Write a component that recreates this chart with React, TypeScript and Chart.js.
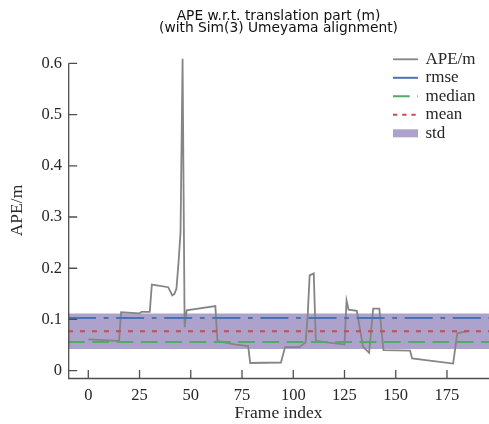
import React, { useEffect, useRef } from "react";
import { Chart, registerables } from "chart.js";

Chart.register(...registerables);

// ---- data ----
const FRAMES = [
  0, 15, 16, 25, 26, 30, 31, 39, 40, 41, 42, 43, 44, 45, 46, 47, 48, 62, 63, 72, 78, 79,
  94, 96, 103, 104, 106, 107, 108, 110, 111, 125, 126, 127, 131, 134, 137, 139, 142, 144,
  157, 158, 178, 180, 186,
];
const APE = [
  0.061, 0.058, 0.114, 0.112, 0.115, 0.115, 0.168, 0.163, 0.155, 0.147, 0.15, 0.16, 0.21,
  0.27, 0.609, 0.085, 0.118, 0.126, 0.058, 0.051, 0.048, 0.015, 0.016, 0.046, 0.046, 0.049,
  0.055, 0.105, 0.186, 0.19, 0.058, 0.051, 0.137, 0.119, 0.117, 0.047, 0.035, 0.121, 0.121,
  0.04, 0.039, 0.024, 0.014, 0.073, 0.078,
];
const RMSE = 0.103;
const MEDIAN = 0.056;
const MEAN = 0.077;
const STD = 0.0696;

const X_RANGE = [-9.9, 195.5];
const Y_RANGE = [-0.0162, 0.6416];
const X_TICK_STEP = 25;
const Y_TICK_STEP = 0.1;
const Y_TICK_TOP = 0.6;

const TITLE = ["APE w.r.t. translation part (m)", "(with Sim(3) Umeyama alignment)"];
const X_LABEL = "Frame index";
const Y_LABEL = "APE/m";
const SERIES_LABELS = ["APE/m", "rmse", "median", "mean", "std"];

// ---- styles ----
const SERIF = "'Liberation Serif', 'Times New Roman', serif";
const TEXT = "#262626";
const SPINE = "#4f4f4f";
const GRAY = "#858585";
const BLUE = "#4c72b0";
const GREEN = "#55a868";
const RED = "#c44e52";
const BAND = "rgba(129,114,178,0.66)";

const DASH_RMSE = [28, 7.7, 4.7, 7.7];
const DASH_MEDIAN = [16.7, 7.6];
const DASH_MEAN = [5, 7];

const hline = (v: number) => [
  { x: X_RANGE[0], y: v },
  { x: X_RANGE[1], y: v },
];

const decorPlugin = {
  id: "decor",
  afterDatasetsDraw(chart: any) {
    const { ctx, chartArea, scales } = chart;
    const xs = scales.x;
    const ys = scales.y;
    ctx.save();
    // spines
    ctx.strokeStyle = SPINE;
    ctx.lineWidth = 1.3;
    ctx.setLineDash([]);
    const lx = chartArea.left + 0.7;
    const by = chartArea.bottom - 0.5;
    ctx.beginPath();
    ctx.moveTo(lx, ys.getPixelForValue(Y_TICK_TOP));
    ctx.lineTo(lx, by);
    ctx.lineTo(chartArea.right, by);
    ctx.stroke();
    // inward tick marks
    ctx.beginPath();
    ys.ticks.forEach((t: any) => {
      const p = ys.getPixelForValue(t.value);
      ctx.moveTo(lx, p);
      ctx.lineTo(lx + 8.5, p);
    });
    xs.ticks.forEach((t: any) => {
      const p = xs.getPixelForValue(t.value);
      ctx.moveTo(p, by);
      ctx.lineTo(p, by - 8.5);
    });
    ctx.stroke();

    // legend
    const x0 = chartArea.right - 96;
    const x1 = x0 + 25;
    const tx = x1 + 7.5;
    const y0 = chartArea.top + 17.3;
    const step = 18.5;
    const items = [
      { color: GRAY, dash: [] as number[], w: 1.8 },
      { color: BLUE, dash: DASH_RMSE, w: 2 },
      { color: GREEN, dash: DASH_MEDIAN, w: 2 },
      { color: RED, dash: [4.3, 4.9], w: 2 },
      { color: BAND, dash: [], w: 0, patch: true },
    ];
    ctx.font = `17px ${SERIF}`;
    ctx.textBaseline = "middle";
    ctx.textAlign = "left";
    items.forEach((it: any, i) => {
      const y = y0 + i * step;
      if (it.patch) {
        ctx.fillStyle = it.color;
        ctx.fillRect(x0, y - 4, x1 - x0, 8);
      } else {
        ctx.strokeStyle = it.color;
        ctx.lineWidth = it.w;
        ctx.setLineDash(it.dash);
        ctx.beginPath();
        ctx.moveTo(x0, y);
        ctx.lineTo(x1, y);
        ctx.stroke();
      }
      ctx.setLineDash([]);
      ctx.fillStyle = TEXT;
      ctx.fillText(SERIES_LABELS[i], tx, y);
    });
    ctx.restore();
  },
};

export default function App() {
  const ref = useRef<HTMLCanvasElement | null>(null);

  useEffect(() => {
    if (!ref.current) return;
    const chart = new Chart(ref.current, {
      type: "line",
      data: {
        datasets: [
          {
            label: SERIES_LABELS[0],
            data: FRAMES.map((f, i) => ({ x: f, y: APE[i] })),
            borderColor: GRAY,
            borderWidth: 1.8,
            pointRadius: 0,
            tension: 0,
            fill: false,
            order: 5,
          },
          {
            label: SERIES_LABELS[1],
            data: hline(RMSE),
            borderColor: BLUE,
            borderWidth: 2,
            borderDash: DASH_RMSE,
            pointRadius: 0,
            fill: false,
            order: 3,
          },
          {
            label: SERIES_LABELS[2],
            data: hline(MEDIAN),
            borderColor: GREEN,
            borderWidth: 2,
            borderDash: DASH_MEDIAN,
            pointRadius: 0,
            fill: false,
            order: 2,
          },
          {
            label: SERIES_LABELS[3],
            data: hline(MEAN),
            borderColor: RED,
            borderWidth: 2,
            borderDash: DASH_MEAN,
            pointRadius: 0,
            fill: false,
            order: 1,
          },
          {
            label: SERIES_LABELS[4],
            data: hline(MEAN + STD / 2),
            borderColor: "rgba(0,0,0,0)",
            backgroundColor: BAND,
            borderWidth: 1,
            pointRadius: 0,
            fill: "+1",
            order: 10,
          },
          {
            label: "std_lower",
            data: hline(MEAN - STD / 2),
            borderColor: "rgba(0,0,0,0)",
            borderWidth: 1,
            pointRadius: 0,
            fill: false,
            order: 11,
          },
        ],
      },
      options: {
        animation: false,
        responsive: false,
        maintainAspectRatio: false,
        layout: { padding: 0 },
        plugins: {
          legend: { display: false },
          tooltip: { enabled: false },
          filler: { propagate: false },
          title: {
            display: true,
            text: TITLE,
            fullSize: false,
            color: "#111",
            font: { family: "'DejaVu Sans', sans-serif", size: 13.8, weight: "normal", lineHeight: "11.5px" },
            padding: { top: 10.75, bottom: 8.25 },
          },
        },
        scales: {
          x: {
            type: "linear",
            min: X_RANGE[0],
            max: X_RANGE[1],
            border: { display: false },
            grid: { display: false, drawTicks: false },
            ticks: {
              stepSize: X_TICK_STEP,
              includeBounds: false,
              padding: 7,
              maxRotation: 0,
              color: TEXT,
              font: { family: SERIF, size: 16.5 },
            },
            title: {
              display: true,
              text: X_LABEL,
              color: TEXT,
              font: { family: SERIF, size: 17.5 },
              padding: { top: 0, bottom: 0 },
            },
            afterFit: (s: any) => {
              s.height = 45;
            },
          },
          y: {
            type: "linear",
            min: Y_RANGE[0],
            max: Y_RANGE[1],
            border: { display: false },
            grid: { display: false, drawTicks: false },
            ticks: {
              stepSize: Y_TICK_STEP,
              includeBounds: false,
              padding: 6,
              color: TEXT,
              font: { family: SERIF, size: 16.5 },
            },
            title: {
              display: true,
              text: Y_LABEL,
              color: TEXT,
              font: { family: SERIF, size: 17.5 },
              padding: { top: 6.5, bottom: 0 },
            },
            afterFit: (s: any) => {
              s.width = 68;
            },
          },
        },
      },
      plugins: [decorPlugin],
    });
    return () => chart.destroy();
  }, []);

  return (
    <div style={{ position: "fixed", left: 0, top: 0, width: 489, height: 424, background: "#fff" }}>
      <canvas ref={ref} width={489} height={424} style={{ display: "block" }} />
    </div>
  );
}
